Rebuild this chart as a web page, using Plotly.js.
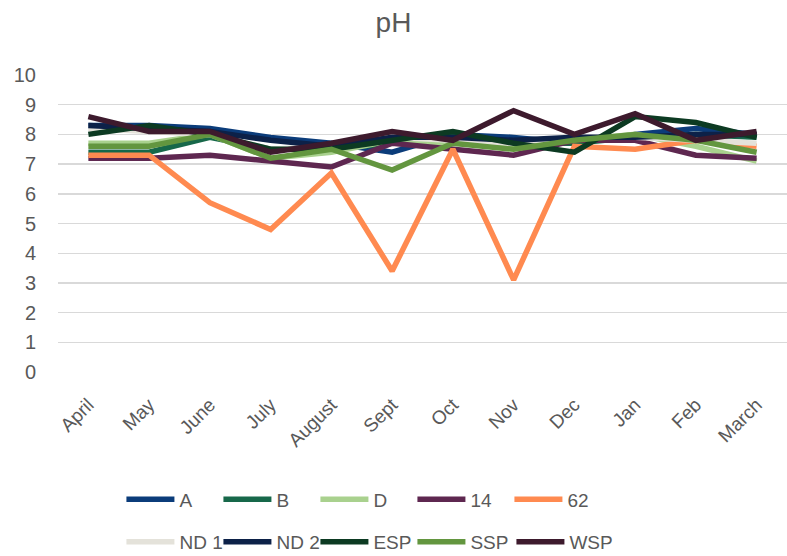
<!DOCTYPE html>
<html>
<head>
<meta charset="utf-8">
<script src="https://cdn.plot.ly/plotly-3.0.1.min.js"></script>
<style>html,body{margin:0;padding:0;background:#fff}#chart{width:787px;height:556px}</style>
</head>
<body>
<div id="chart"></div>
<script>
const months = ["April","May","June","July","August","Sept","Oct","Nov","Dec","Jan","Feb","March"];
const seriesNames = ["A","B","D","14","62","ND 1","ND 2","ESP","SSP","WSP"];
const A    = [8.3, 8.3, 8.2, 7.9, 7.7, 7.4, 8.0, 7.9, 7.7, 8.0, 8.2, 8.0];
const B    = [7.4, 7.4, 7.9, 7.5, 7.5, 7.7, 8.0, 7.7, 7.7, 7.9, 8.0, 7.9];
const D    = [7.7, 7.7, 8.0, 7.2, 7.4, 7.8, 7.7, 7.6, 7.8, 8.0, 7.6, 7.1];
const s14  = [7.2, 7.2, 7.3, 7.1, 6.9, 7.7, 7.5, 7.3, 7.8, 7.8, 7.3, 7.2];
const s62  = [7.3, 7.3, 5.7, 4.8, 6.7, 3.4, 7.5, 3.1, 7.6, 7.5, 7.8, 7.6];
const ND1  = [8.2, 8.1, 8.0, 7.5, 7.6, 7.9, 7.8, 7.7, 7.9, 7.9, 7.8, 7.7];
const ND2  = [8.3, 8.2, 8.1, 7.8, 7.6, 7.9, 7.9, 7.8, 7.9, 7.9, 8.0, 8.0];
const ESP  = [8.0, 8.3, 8.0, 7.5, 7.5, 7.8, 8.1, 7.7, 7.4, 8.6, 8.4, 7.9];
const SSP  = [7.6, 7.6, 8.0, 7.2, 7.5, 6.8, 7.7, 7.5, 7.8, 8.0, 7.8, 7.4];
const WSP  = [8.6, 8.1, 8.1, 7.4, 7.7, 8.1, 7.8, 8.8, 8.0, 8.7, 7.8, 8.1];
const yTicks = [0,1,2,3,4,5,6,7,8,9,10];

const values = [A, B, D, s14, s62, ND1, ND2, ESP, SSP, WSP];
const colors = ["#0B3C7A","#17684A","#A9D18E","#5E2750","#FF8A50","#E4E2DA","#0C2148","#0C3A22","#63963F","#3D1A2D"];
const legendOf = ["legend","legend","legend","legend","legend","legend2","legend2","legend2","legend2","legend3"];

const traces = values.map((v, i) => ({
  type: "scatter",
  mode: "lines",
  x: months,
  y: v,
  name: seriesNames[i],
  line: {color: colors[i], width: 5.5},
  legend: legendOf[i]
}));
const fontFam = "Liberation Sans, Arial, sans-serif";
const legendCommon = {
  orientation: "h",
  xanchor: "left",
  yanchor: "top",
  font: {family: fontFam, size: 19, color: "#595959"},
  entrywidth: 34,
  entrywidthmode: "pixels",
  itemwidth: 48,
  bgcolor: "rgba(0,0,0,0)"
};
const lx = 0.087;
const layout = {
  width: 787,
  height: 556,
  margin: {l: 58, r: 0, t: 75, b: 184, autoexpand: false},
  paper_bgcolor: "#ffffff",
  plot_bgcolor: "#ffffff",
  title: {text: "pH", x: 0.5, xanchor: "center", y: 0.96, yanchor: "middle",
          font: {family: fontFam, size: 28, color: "#595959"}},
  xaxis: {
    type: "category",
    range: [-0.5, 11.5],
    tickangle: -45,
    showgrid: false,
    zeroline: false,
    showline: false,
    ticks: "",
    automargin: false,
    ticklabelstandoff: 17,
    tickfont: {family: fontFam, size: 19, color: "#595959"}
  },
  yaxis: {
    range: [0, 10],
    tickvals: yTicks,
    ticktext: yTicks.map(String),
    showgrid: true,
    gridcolor: "#D9D9D9",
    gridwidth: 1.4,
    zeroline: false,
    showline: false,
    ticks: "",
    automargin: false,
    ticklabelstandoff: 21,
    tickfont: {family: fontFam, size: 20, color: "#595959"}
  },
  showlegend: true,
  legend: Object.assign({}, legendCommon, {x: lx, y: -0.365}),
  legend2: Object.assign({}, legendCommon, {x: lx, y: -0.508}),
  legend3: Object.assign({}, legendCommon, {x: lx + 4 * 97.5 / 729, y: -0.508, entrywidth: 50})
};
Plotly.newPlot("chart", traces, layout, {displayModeBar: false, staticPlot: true});
</script>
</body>
</html>
